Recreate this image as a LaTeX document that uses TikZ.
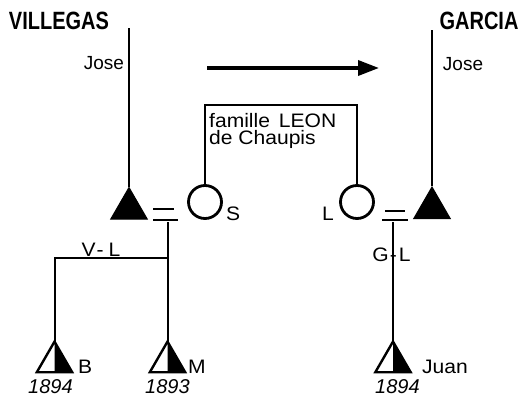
\documentclass[tikz,border=0pt]{standalone}
\usepackage{fontspec}
\setmainfont{Liberation Sans}
\newfontfamily\namefont[FakeStretch=0.8]{Liberation Sans}
\newfontfamily\labfont[FakeStretch=1.08]{Liberation Sans}
\usetikzlibrary{shapes.geometric,arrows.meta}

\tikzset{
  parent/.style={regular polygon, regular polygon sides=3, minimum size=42pt,
    inner sep=0pt, draw=black, fill=black, line width=1pt},
  child/.style={regular polygon, regular polygon sides=3, minimum size=40pt,
    inner sep=0pt},
  female/.style={circle, draw=black, line width=2.8pt, minimum size=33pt, inner sep=0pt},
  lineage/.style={line width=2.8pt},
  kin/.style={line width=2pt},
  bar/.style={line width=2.4pt},
  family/.style={font=\namefont\bfseries\fontsize{25}{25}\selectfont, inner sep=0pt},
  given/.style={font=\fontsize{19}{19}\selectfont, inner sep=0pt},
  lab/.style={font=\labfont\fontsize{19.5}{17}\selectfont, inner sep=0pt},
  year/.style={font=\itshape\fontsize{20}{20}\selectfont, inner sep=0pt, anchor=base west},
}

\begin{document}
\begin{tikzpicture}[x=1pt,y=-1pt]
\useasboundingbox (0,0) rectangle (525,399);

% family names and lineage heads
\node[family] (villegas) at (59,21) {VILLEGAS};
\node[family] (garcia) at (479,21) {GARCIA};
\coordinate (vtop) at (129,28);
\coordinate (gtop) at (432,30);
\node[given] (josev) at (104,63) {Jose};
\node[given] (joseg) at (463,64) {Jose};

% transfer arrow
\coordinate (arrA) at (207,68);
\coordinate (arrB) at (379,68);
\draw[line width=3.5pt, -{Triangle[length=21pt,width=15pt]}] (arrA) -- (arrB);

% parents
\node[parent] (pv) at (129,208.5) {};
\node[parent] (pg) at (432,208) {};
\draw[lineage] (vtop) -- (pv.corner 1);
\draw[lineage] (gtop) -- (pg.corner 1);

\node[female] (S) at (205,202) {};
\node[female] (L) at (357,202) {};
\node[lab, anchor=base west] (sl) at (226,220) {S};
\node[lab, anchor=base east] (ll) at (334,220) {L};

% famille LEON frame
\coordinate (boxtop) at (280,105);
\draw[kin] (S.north) |- (boxtop) -| (L.north);
\node[lab, align=left, anchor=north west] (leon) at (209,113)
  {famille\hspace{3pt} LEON\\de Chaupis};

% alliance bars
\coordinate (ev1) at (153,209); \coordinate (ev2) at (174,209);
\coordinate (ev3) at (153,220); \coordinate (ev4) at (178,220);
\draw[bar] (ev1) -- (ev2);
\draw[bar] (ev3) -- (ev4);
\coordinate (eg1) at (385,211); \coordinate (eg2) at (405,211);
\coordinate (eg3) at (382,220); \coordinate (eg4) at (408,220);
\draw[bar] (eg1) -- (eg2);
\draw[bar] (eg3) -- (eg4);

% children
\node[child] (B) at (54.5,362) {};
\node[child] (M) at (167.5,362) {};
\node[child] (J) at (393,362) {};
\foreach \c in {B,M,J}{
  \fill (\c.corner 1) -- (\c.corner 3) -- (\c.corner 1 |- \c.corner 3) -- cycle;
  \draw[line width=2.4pt, line join=miter] (\c.corner 1) -- (\c.corner 2) -- (\c.corner 3) -- cycle;
}

\coordinate (vdesc) at (167.5,222);
\coordinate (vfork) at (167.5,258);
\coordinate (gdesc) at (393,222);
\draw[kin] (vdesc) -- (M.corner 1);
\draw[kin] (B.corner 1) |- (vfork);
\draw[kin] (gdesc) -- (J.corner 1);

\node[lab, anchor=base] (vl) at (101,256) {V\hspace{1pt}-\hspace{5pt}L};
\node[lab, anchor=base] (gl) at (391.5,261) {G\hspace{1pt}-\hspace{2pt}L};

\node[lab, anchor=base west] (nb) at (78,373) {B};
\node[lab, anchor=base west] (nm) at (188,373) {M};
\node[lab, anchor=base west] (nj) at (422,373) {Juan};
\node[year] (yb) at (28,393) {1894};
\node[year] (ym) at (145,393) {1893};
\node[year] (yj) at (375,393) {1894};
\end{tikzpicture}
\end{document}
